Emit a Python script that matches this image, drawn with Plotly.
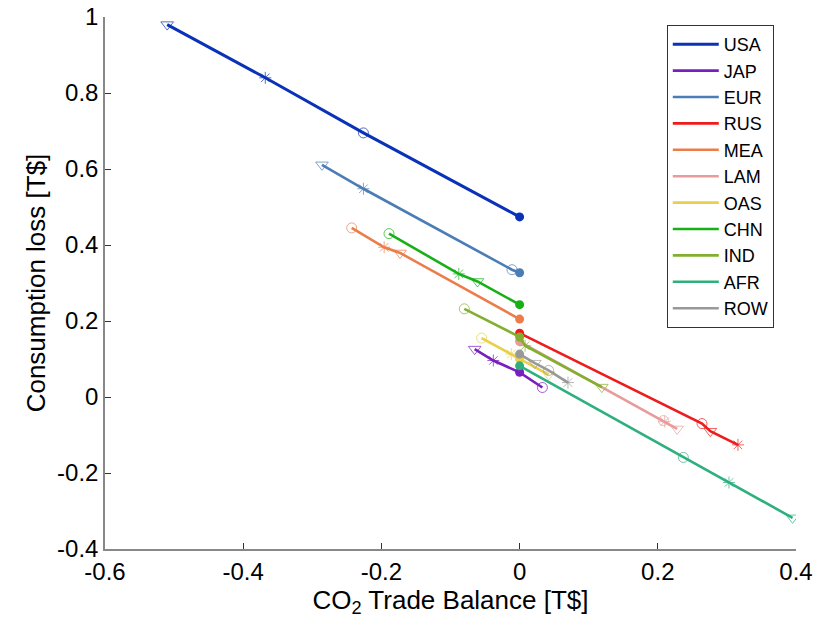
import plotly.graph_objects as go

regions = ["USA", "JAP", "EUR", "RUS", "MEA", "LAM", "OAS", "CHN", "IND", "AFR", "ROW"]
colors = ["#0a32b8", "#7a1fbf", "#4a7db6", "#ee1c1c", "#ec7d4a", "#e89b9b",
          "#e8d048", "#17b017", "#82b02e", "#2eb07e", "#999999"]

# baseline point (filled dot) at x = 0
base_y = [0.474, 0.065, 0.327, 0.168, 0.205, 0.146, 0.100, 0.243, 0.158, 0.082, 0.113]
# open-circle scenario
circ_x = [-0.226, 0.033, -0.011, 0.264, -0.243, 0.208, -0.055, -0.189, -0.080, 0.237, 0.042]
circ_y = [0.695, 0.025, 0.335, -0.070, 0.445, -0.062, 0.155, 0.430, 0.232, -0.159, 0.070]
# asterisk scenario
star_x = [-0.368, -0.038, -0.226, 0.316, -0.196, 0.210, -0.012, -0.088, 0.008, 0.303, 0.070]
star_y = [0.840, 0.096, 0.548, -0.126, 0.394, -0.065, 0.113, 0.324, 0.135, -0.225, 0.038]
# triangle scenario
tri_x = [-0.510, -0.065, -0.286, 0.276, -0.173, 0.228, 0.042, -0.061, 0.119, 0.395, 0.022]
tri_y = [0.980, 0.126, 0.611, -0.090, 0.379, -0.084, 0.059, 0.304, 0.026, -0.318, 0.089]

fig = go.Figure()

for i, name in enumerate(regions):
    pts = [(0.0, base_y[i]), (circ_x[i], circ_y[i]), (star_x[i], star_y[i]), (tri_x[i], tri_y[i])]
    pts.sort(key=lambda p: p[0])
    lw = 3 if name == "USA" else 2.6
    fig.add_trace(go.Scatter(
        x=[p[0] for p in pts], y=[p[1] for p in pts], mode="lines",
        line=dict(color=colors[i], width=lw), name=name, showlegend=True,
        hoverinfo="skip"))
    fig.add_trace(go.Scatter(
        x=[circ_x[i]], y=[circ_y[i]], mode="markers", showlegend=False,
        marker=dict(symbol="circle-open", size=10, color=colors[i], opacity=0.7,
                    line=dict(width=1))))
    fig.add_trace(go.Scatter(
        x=[star_x[i]], y=[star_y[i]], mode="markers", showlegend=False,
        marker=dict(symbol="asterisk-open", size=10, color=colors[i], opacity=0.7,
                    line=dict(width=1, color=colors[i]))))
    fig.add_trace(go.Scatter(
        x=[tri_x[i]], y=[tri_y[i]], mode="markers", showlegend=False,
        marker=dict(symbol="triangle-down-open", size=11, color=colors[i], opacity=0.7,
                    line=dict(width=1))))
    fig.add_trace(go.Scatter(
        x=[0.0], y=[base_y[i]], mode="markers", showlegend=False,
        marker=dict(symbol="circle", size=9, color=colors[i])))

axis_font = dict(family="Liberation Sans, Arial, sans-serif", size=24, color="black")

fig.update_layout(
    width=817, height=630,
    margin=dict(l=105, r=21, t=17, b=81, autoexpand=False),
    paper_bgcolor="white", plot_bgcolor="white",
    font=dict(family="Liberation Sans, Arial, sans-serif", color="black"),
    legend=dict(x=0.813, y=0.985, xanchor="left", yanchor="top",
                bordercolor="#333333", borderwidth=1, bgcolor="white",
                font=dict(size=18, family="Liberation Sans, Arial, sans-serif"),
                tracegroupgap=0, itemwidth=46, entrywidth=110, entrywidthmode="pixels"),
    xaxis=dict(range=[-0.6, 0.4], tickvals=[-0.6, -0.4, -0.2, 0, 0.2, 0.4],
               ticktext=["-0.6", "-0.4", "-0.2", "0", "0.2", "0.4"],
               automargin=False,
               showgrid=False, zeroline=False, showline=True, linecolor="#888888",
               linewidth=1.5, ticks="inside", ticklen=6, tickcolor="#333333",
               tickfont=axis_font,
               title=dict(text="CO<sub>2</sub> Trade Balance [T$]",
                          font=dict(size=26, color="black"), standoff=2)),
    yaxis=dict(range=[-0.4, 1.0], tickvals=[-0.4, -0.2, 0, 0.2, 0.4, 0.6, 0.8, 1.0],
               ticktext=["-0.4", "-0.2", "0", "0.2", "0.4", "0.6", "0.8", "1"],
               automargin=False,
               showgrid=False, zeroline=False, showline=True, linecolor="#888888",
               linewidth=1.5, ticks="inside", ticklen=6, tickcolor="#333333",
               tickfont=axis_font,
               title=dict(text="Consumption loss [T$]",
                          font=dict(size=26, color="black"), standoff=4)),
)

fig.write_html("out.html")
